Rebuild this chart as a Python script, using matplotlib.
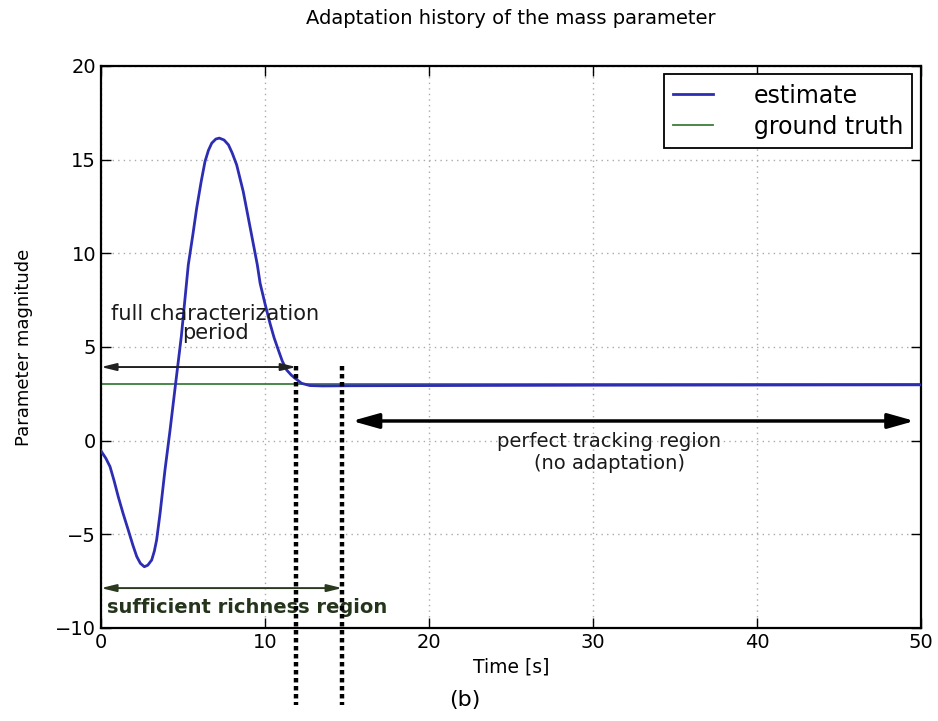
import matplotlib
matplotlib.use("Agg")
import matplotlib.pyplot as plt

# estimate trajectory (time in s, parameter value)
time_s = [0, 0.3, 0.55, 0.8, 1.05, 1.35, 1.66, 1.95, 2.18, 2.4, 2.64, 2.85,
          3.09, 3.25, 3.39, 3.6, 3.9, 4.2, 4.5, 4.9, 5.32, 5.6, 5.83, 6.1,
          6.34, 6.55, 6.75, 7.0, 7.21, 7.5, 7.77, 8.0, 8.27, 8.67, 9.18,
          9.53, 9.7, 10.0, 10.3, 10.55, 10.81, 11.05, 11.32, 11.6, 11.83,
          12.23, 12.74, 13.5, 15.0, 20.0, 30.0, 40.0, 50.0]
estimate = [-0.55, -0.95, -1.39, -2.15, -2.99, -3.9, -4.77, -5.6, -6.19,
            -6.55, -6.73, -6.65, -6.37, -5.9, -5.3, -3.88, -1.56, 0.5, 2.7,
            5.6, 9.38, 11.0, 12.4, 13.8, 14.9, 15.5, 15.88, 16.1, 16.15,
            16.05, 15.79, 15.35, 14.72, 13.3, 10.98, 9.38, 8.4, 7.3, 6.27,
            5.5, 4.84, 4.25, 3.77, 3.5, 3.33, 3.06, 2.94, 2.92, 2.93, 2.94,
            2.96, 2.97, 2.98]

truth_time = [0, 50]
ground_truth = [3, 3]

x_ticks = [0, 10, 20, 30, 40, 50]
y_ticks = [-10, -5, 0, 5, 10, 15, 20]

# region boundaries (s)
full_char_end = 11.9
richness_end = 14.7

fig = plt.figure(figsize=(9.38, 7.21), dpi=100)
ax = fig.add_axes([0.1077, 0.129, 0.8743, 0.7795])

ax.plot(truth_time, ground_truth, color="#3b7d3b", lw=1.3, label="ground truth", zorder=2)
ax.plot(time_s, estimate, color="#2d2db4", lw=2.0, label="estimate", zorder=3)

ax.set_xlim(0, 50)
ax.set_ylim(-10, 20)
ax.set_xticks(x_ticks)
ax.set_yticks(y_ticks)
ax.tick_params(direction="in", top=True, right=True, labelsize=14, length=7, width=1)
ax.grid(True, color="#aaaaaa", linestyle=(0, (1, 3)), lw=1.0)
for s in ax.spines.values():
    s.set_linewidth(1.6)

ax.set_xlabel("Time [s]", fontsize=13.5, labelpad=4)
ax.set_ylabel("Parameter magnitude", fontsize=13, labelpad=16)
ax.set_title("Adaptation history of the mass parameter", fontsize=14, pad=30)

handles, labels = ax.get_legend_handles_labels()
leg = ax.legend(handles[::-1], labels[::-1], loc="upper right", fontsize=17,
                fancybox=False, edgecolor="black", handlelength=1.7,
                handletextpad=1.7, borderpad=0.4, labelspacing=0.3,
                borderaxespad=0.3, framealpha=1, bbox_to_anchor=(0.998, 0.998))
leg.get_frame().set_linewidth(1.3)

# full characterization period
ax.annotate("", xy=(0, 3.93), xytext=(full_char_end, 3.93),
            arrowprops=dict(arrowstyle="<|-|>,head_length=0.9,head_width=0.22",
                            color="#222222", lw=1.4, shrinkA=0, shrinkB=0))
ax.text(6.95, 6.27, "full characterization\nperiod", fontsize=15,
        ha="center", va="center", linespacing=0.95, color="#1a1a1a")

# sufficient richness region
ax.annotate("", xy=(0, -7.87), xytext=(richness_end, -7.87),
            arrowprops=dict(arrowstyle="<|-|>,head_length=0.9,head_width=0.22",
                            color="#2b3a1e", lw=1.4, shrinkA=0, shrinkB=0))
ax.text(0.37, -8.89, "sufficient richness region", fontsize=14, fontweight="bold",
        ha="left", va="center", color="#25351c")

# perfect tracking region
ax.annotate("", xy=(15.3, 1.05), xytext=(49.6, 1.05),
            arrowprops=dict(arrowstyle="<|-|>,head_length=1.6,head_width=0.45",
                            color="black", lw=2.5, shrinkA=0, shrinkB=0))
ax.text(31.0, -0.65, "perfect tracking region\n(no adaptation)", fontsize=14,
        ha="center", va="center", linespacing=1.2, color="#1a1a1a")

# boundaries running below the axis
for xb in [full_char_end, richness_end]:
    ax.plot([xb, xb], [4.0, -14.1], color="black", lw=3.2,
            linestyle=(0, (1, 0.8)), clip_on=False, zorder=4)

fig.text(0.496, 0.029, "(b)", fontsize=16, ha="center", va="center")

fig.savefig("out.png", dpi=100)
